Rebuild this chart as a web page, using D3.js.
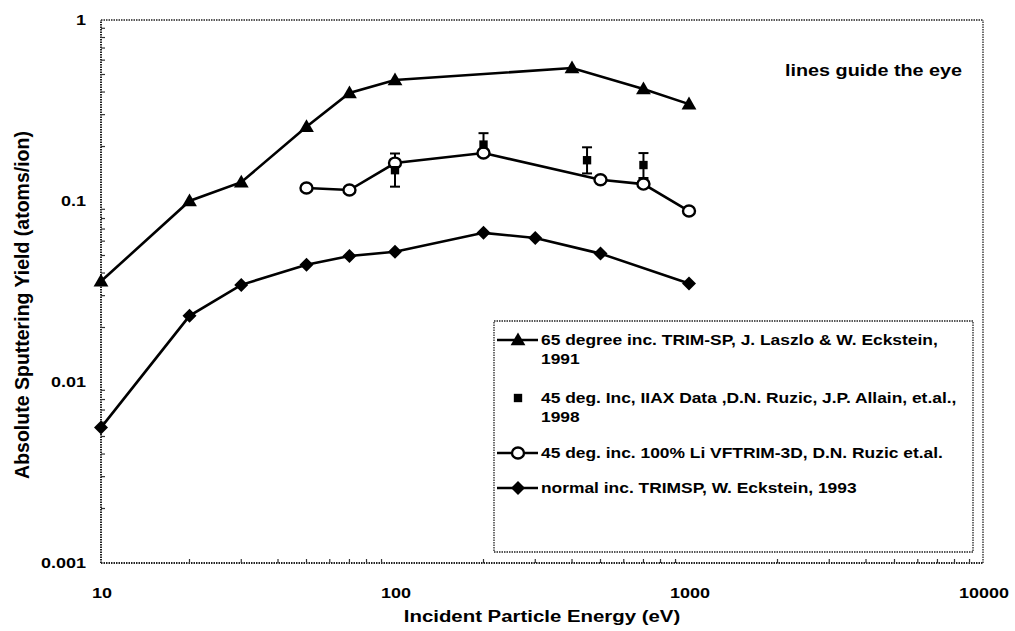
<!DOCTYPE html>
<html><head><meta charset="utf-8">
<script src="https://cdn.jsdelivr.net/npm/d3@7"></script>
<style>html,body{margin:0;padding:0;background:#fff;}svg{display:block;font-family:"Liberation Sans",Arial,sans-serif;}</style>
</head><body>
<svg id="c" width="1015" height="631"></svg>
<script>
// ---- data ----
const energy65 = [10, 20, 30, 50, 70, 100, 400, 700, 1000];
const yield65 = [0.036, 0.100, 0.127, 0.257, 0.395, 0.466, 0.543, 0.416, 0.343];

const energyIIAX = [100, 200, 450, 700];
const yieldIIAX = [0.148, 0.205, 0.168, 0.158];
const errLowIIAX = [0.120, 0.180, 0.142, 0.134];
const errHighIIAX = [0.183, 0.237, 0.198, 0.184];

const energyVF = [50, 70, 100, 200, 500, 700, 1000];
const yieldVF = [0.118, 0.115, 0.162, 0.184, 0.131, 0.124, 0.088];

const energyNormal = [10, 20, 30, 50, 70, 100, 200, 300, 500, 1000];
const yieldNormal = [0.0056, 0.0232, 0.0344, 0.0445, 0.0497, 0.0524, 0.0667, 0.0625, 0.0512, 0.0350];

const xTicks = [10, 100, 1000, 10000];
const xTickLabels = ["10", "100", "1000", "10000"];
const yTicks = [0.001, 0.01, 0.1, 1];
const yTickLabels = ["0.001", "0.01", "0.1", "1"];

const legendLabels = [
  ["65 degree inc. TRIM-SP, J. Laszlo & W. Eckstein,", "1991"],
  ["45 deg. Inc, IIAX Data ,D.N. Ruzic, J.P. Allain, et.al.,", "1998"],
  ["45 deg. inc. 100% Li VFTRIM-3D, D.N. Ruzic et.al."],
  ["normal inc. TRIMSP, W. Eckstein, 1993"]
];

// ---- chart ----
const K = 1.2; // horizontal stretch of the scanned figure's lettering
const svg = d3.select("#c");
const x = d3.scaleLog().domain([10, 10000]).range([101, 983]);
const y = d3.scaleLog().domain([0.001, 1]).range([563, 20]);

function txt(parent, tx, ty, str, size, anchor) {
  return parent.append("text").attr("transform", `translate(${tx},${ty}) scale(${K},1)`)
    .attr("text-anchor", anchor || "start").attr("font-size", size).attr("font-weight", "bold")
    .attr("fill", "#000").text(str);
}

const frame = svg.append("g").attr("stroke", "#222").attr("stroke-width", 1.3)
  .attr("stroke-dasharray", "1.5,1").attr("fill", "none");
frame.append("line").attr("x1", x(10)).attr("x2", x(10000)).attr("y1", y(0.001)).attr("y2", y(0.001)).attr("stroke-width", 2);
frame.append("line").attr("x1", x(10)).attr("x2", x(10)).attr("y1", y(0.001)).attr("y2", y(1)).attr("stroke-width", 2);
frame.append("line").attr("x1", x(10)).attr("x2", x(10000)).attr("y1", y(1)).attr("y2", y(1));
frame.append("line").attr("x1", x(10000)).attr("x2", x(10000)).attr("y1", y(0.001)).attr("y2", y(1));

// minor ticks
const xMinor = [];
[10, 100, 1000].forEach(d => { for (let k = 2; k <= 9; k++) xMinor.push(d * k); });
svg.append("g").selectAll("line").data(xMinor).join("line")
  .attr("x1", d => x(d)).attr("x2", d => x(d)).attr("y1", y(0.001)).attr("y2", y(0.001) - 4)
  .attr("stroke", "#333").attr("stroke-width", 1.2);
const yMinor = [];
[0.001, 0.01, 0.1].forEach(d => { for (let k = 2; k <= 9; k++) yMinor.push(d * k); });
svg.append("g").selectAll("line").data(yMinor).join("line")
  .attr("x1", x(10)).attr("x2", x(10) + 4).attr("y1", d => y(d)).attr("y2", d => y(d))
  .attr("stroke", "#333").attr("stroke-width", 1.2);

// tick labels
const tl = svg.append("g");
xTicks.forEach((d, i) => txt(tl, x(d) + 1, 598, xTickLabels[i], 15, "middle"));
yTicks.forEach((d, i) => txt(tl, 86, y(d) + 5, yTickLabels[i], 15, "end"));

// axis titles
txt(svg, 542, 622, "Incident Particle Energy (eV)", 17, "middle");
svg.append("text").attr("transform", "translate(29,305) rotate(-90)").attr("text-anchor", "middle")
  .attr("font-size", 19.5).attr("font-weight", "bold").text("Absolute Sputtering Yield (atoms/ion)");

txt(svg, 785, 76, "lines guide the eye", 16.5, "start");

const line = d3.line().x(d => x(d[0])).y(d => y(d[1]));
const tri = d3.symbol().type(d3.symbolTriangle).size(95)();
const dia = "M0,-7L7,0L0,7L-7,0Z";
const sq = d3.symbol().type(d3.symbolSquare).size(70)();

function marker(g, mk, cx, cy) {
  if (mk === "circle") {
    g.append("ellipse").attr("cx", cx).attr("cy", cy).attr("rx", 6).attr("ry", 5.5)
      .attr("fill", "#fff").attr("stroke", "#000").attr("stroke-width", 2.4);
  } else {
    const s = mk === "tri" ? tri : mk === "dia" ? dia : sq;
    g.append("path").attr("transform", `translate(${cx},${cy + (mk === "tri" ? 1 : 0)})`)
      .attr("d", s).attr("fill", "#000");
  }
}

function series(xs, ys, mk) {
  const pts = xs.map((v, i) => [v, ys[i]]);
  const g = svg.append("g");
  g.append("path").attr("d", line(pts)).attr("fill", "none").attr("stroke", "#000").attr("stroke-width", 2.6);
  pts.forEach(p => marker(g, mk, x(p[0]), y(p[1])));
}
series(energy65, yield65, "tri");
series(energyNormal, yieldNormal, "dia");

// IIAX error bars
const eb = svg.append("g").attr("stroke", "#000").attr("stroke-width", 2);
energyIIAX.forEach((e, i) => {
  const cx = x(e);
  eb.append("line").attr("x1", cx).attr("x2", cx).attr("y1", y(errLowIIAX[i])).attr("y2", y(errHighIIAX[i]));
  eb.append("line").attr("x1", cx - 5).attr("x2", cx + 5).attr("y1", y(errLowIIAX[i])).attr("y2", y(errLowIIAX[i]));
  eb.append("line").attr("x1", cx - 5).attr("x2", cx + 5).attr("y1", y(errHighIIAX[i])).attr("y2", y(errHighIIAX[i]));
});
series(energyVF, yieldVF, "circle");
const sqg = svg.append("g");
energyIIAX.forEach((e, i) => marker(sqg, "sq", x(e), y(yieldIIAX[i])));

// legend
const lg = svg.append("g");
lg.append("rect").attr("x", 494).attr("y", 321).attr("width", 479).attr("height", 231)
  .attr("fill", "#fff").attr("stroke", "#222").attr("stroke-width", 1.3).attr("stroke-dasharray", "1.5,1");
const rowsY = [340, 398, 453, 488];
const mks = ["tri", "sq", "circle", "dia"];
rowsY.forEach((ry, i) => {
  const mk = mks[i];
  if (mk !== "sq") lg.append("line").attr("x1", 497).attr("x2", 538).attr("y1", ry).attr("y2", ry)
    .attr("stroke", "#000").attr("stroke-width", 2.4);
  marker(lg, mk, 518, ry);
  legendLabels[i].forEach((t, j) => txt(lg, 541, ry + 5 + j * 19, t, 14.5, "start"));
});
</script>
</body></html>
